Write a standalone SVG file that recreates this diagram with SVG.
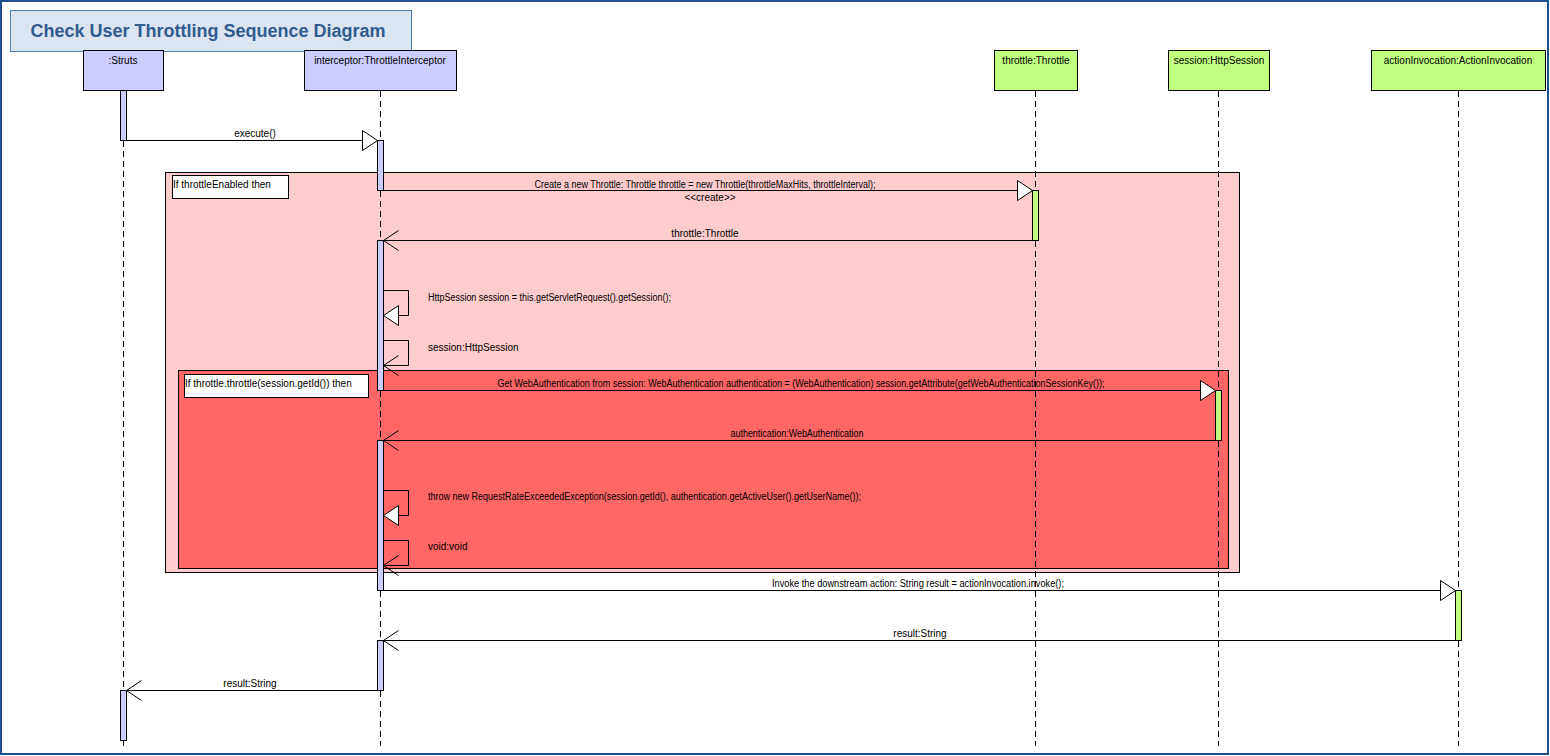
<svg xmlns="http://www.w3.org/2000/svg" width="1550" height="756" viewBox="0 0 1550 756">
<style>
.t{font-family:"Liberation Sans",Arial,sans-serif;font-size:10px;fill:#000}
.m{text-anchor:middle}
.life{stroke:#000;stroke-width:1;stroke-dasharray:6 4;fill:none}
.hb{fill:#ccccff;stroke:#000;stroke-width:1}
.hg{fill:#c0ff80;stroke:#000;stroke-width:1}
.msg{stroke:#000;stroke-width:1;fill:none}
.call{marker-end:url(#call)}
.ret{marker-end:url(#ret)}
.frag{stroke:#000;stroke-width:1}
.lb{fill:#fff;stroke:#000;stroke-width:1}
</style>
<defs>
<marker id="call" viewBox="0 0 15 20" refX="15" refY="10" markerWidth="15" markerHeight="20" markerUnits="userSpaceOnUse" orient="auto" overflow="visible">
<path d="M0,0 L15,10 L0,20 Z" fill="#fff" stroke="#000" stroke-width="1"/>
</marker>
<marker id="ret" viewBox="0 0 15 20" refX="15" refY="10" markerWidth="15" markerHeight="20" markerUnits="userSpaceOnUse" orient="auto" overflow="visible">
<path d="M0,0 L15,10 L0,20" fill="none" stroke="#000" stroke-width="1"/>
</marker>
</defs>
<rect x="1" y="1" width="1547" height="753" fill="#fff" stroke="#1f4e8c" stroke-width="2"/>
<g id="title">
<rect x="10.5" y="10.5" width="401" height="41" fill="#dbe5f1" stroke="#4f7db0" stroke-width="1"/>
<text x="208" y="37" text-anchor="middle" style="font-family:'Liberation Sans',Arial,sans-serif;font-size:18px;font-weight:bold;fill:#2f5b8f">Check User Throttling Sequence Diagram</text>
</g>
<g id="frag-throttleEnabled">
<rect class="frag" x="165.5" y="172.5" width="1074" height="400" fill="#ffcccc"/>
<rect class="lb" x="172.5" y="175.5" width="116" height="23"/>
<text class="t" x="173" y="188">If throttleEnabled then</text>
</g>
<g id="frag-throttle">
<rect class="frag" x="178.5" y="370.5" width="1050" height="198" fill="#ff6666"/>
<rect class="lb" x="184.5" y="374.5" width="184" height="23"/>
<text class="t" x="185" y="387">If throttle.throttle(session.getId()) then</text>
</g>
<g id="struts">
<rect class="hb" x="83.5" y="50.5" width="80" height="40"/>
<text class="t m" x="123" y="64">:Struts</text>
<line class="life" x1="123.5" y1="91" x2="123.5" y2="746"/>
<rect class="hb" x="120.5" y="90.5" width="6" height="50"/>
<rect class="hb" x="120.5" y="690.5" width="6" height="50"/>
</g>
<g id="interceptor">
<rect class="hb" x="304.5" y="50.5" width="152" height="40"/>
<text class="t m" x="380" y="64">interceptor:ThrottleInterceptor</text>
<line class="life" x1="380.5" y1="91" x2="380.5" y2="746"/>
<rect class="hb" x="377.5" y="140.5" width="6" height="50"/>
<rect class="hb" x="377.5" y="240.5" width="6" height="150"/>
<rect class="hb" x="377.5" y="440.5" width="6" height="150"/>
<rect class="hb" x="377.5" y="640.5" width="6" height="50"/>
</g>
<g id="throttle">
<rect class="hg" x="994.5" y="50.5" width="83" height="40"/>
<text class="t m" x="1036" y="64">throttle:Throttle</text>
<line class="life" x1="1035.5" y1="91" x2="1035.5" y2="746"/>
<rect class="hg" x="1032.5" y="190.5" width="6" height="50"/>
</g>
<g id="session">
<rect class="hg" x="1168.5" y="50.5" width="101" height="40"/>
<text class="t m" x="1219" y="64">session:HttpSession</text>
<line class="life" x1="1218.5" y1="91" x2="1218.5" y2="746"/>
<rect class="hg" x="1215.5" y="390.5" width="6" height="50"/>
</g>
<g id="actionInvocation">
<rect class="hg" x="1371.5" y="50.5" width="174" height="40"/>
<text class="t m" x="1458" y="64">actionInvocation:ActionInvocation</text>
<line class="life" x1="1458.5" y1="91" x2="1458.5" y2="746"/>
<rect class="hg" x="1455.5" y="590.5" width="6" height="50"/>
</g>
<g id="connectors">
<path class="msg call" d="M126.5,140.5 H377.5"/>
<text class="t m" x="255" y="137">execute()</text>
<path class="msg call" d="M383.5,190.5 H1032.5"/>
<text class="t m" x="705" y="188" textLength="341" lengthAdjust="spacingAndGlyphs">Create a new Throttle: Throttle throttle = new Throttle(throttleMaxHits, throttleInterval);</text>
<text class="t m" x="710" y="201">&lt;&lt;create&gt;&gt;</text>
<path class="msg ret" d="M1032.5,240.5 H383.5"/>
<text class="t m" x="705" y="237">throttle:Throttle</text>
<path class="msg call" d="M383.5,290.5 H408.5 V315.5 H383.5"/>
<text class="t" x="428" y="301" textLength="243" lengthAdjust="spacingAndGlyphs">HttpSession session = this.getServletRequest().getSession();</text>
<path class="msg ret" d="M383.5,340.5 H408.5 V365.5 H383.5"/>
<text class="t" x="428" y="351">session:HttpSession</text>
<path class="msg call" d="M383.5,390.5 H1215.5"/>
<text class="t m" x="801" y="387" textLength="607" lengthAdjust="spacingAndGlyphs">Get WebAuthentication from session: WebAuthentication authentication = (WebAuthentication) session.getAttribute(getWebAuthenticationSessionKey());</text>
<path class="msg ret" d="M1215.5,440.5 H383.5"/>
<text class="t m" x="797" y="437" textLength="133" lengthAdjust="spacingAndGlyphs">authentication:WebAuthentication</text>
<path class="msg call" d="M383.5,490.5 H408.5 V515.5 H383.5"/>
<text class="t" x="428" y="500" textLength="433" lengthAdjust="spacingAndGlyphs">throw new RequestRateExceededException(session.getId(), authentication.getActiveUser().getUserName());</text>
<path class="msg ret" d="M383.5,540.5 H408.5 V565.5 H383.5"/>
<text class="t" x="428" y="550">void:void</text>
<path class="msg call" d="M383.5,590.5 H1455.5"/>
<text class="t m" x="918" y="587" textLength="292" lengthAdjust="spacingAndGlyphs">Invoke the downstream action: String result = actionInvocation.invoke();</text>
<path class="msg ret" d="M1455.5,640.5 H383.5"/>
<text class="t m" x="920" y="637">result:String</text>
<path class="msg ret" d="M377.5,690.5 H126.5"/>
<text class="t m" x="250" y="687">result:String</text>
</g>
</svg>
